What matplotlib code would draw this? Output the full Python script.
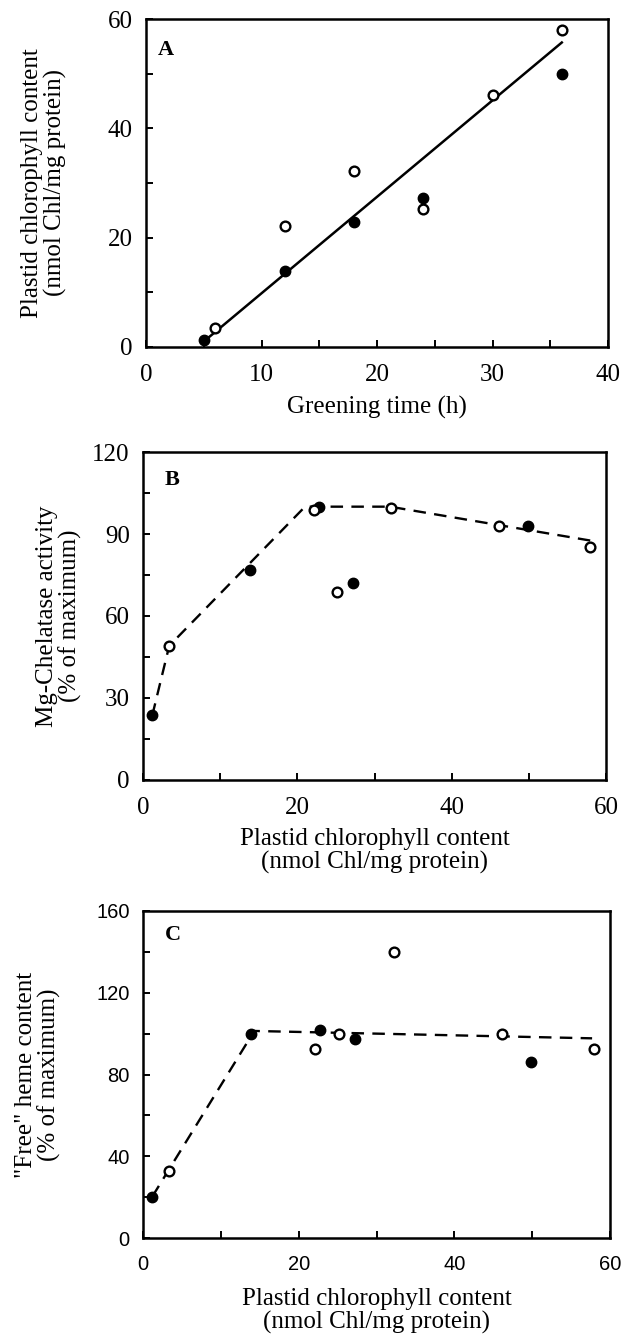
import matplotlib
matplotlib.use('Agg')
import matplotlib.pyplot as plt
from matplotlib.ticker import MultipleLocator

# Panel A: plastid chlorophyll vs greening time
time_filled = [5, 12, 18, 24, 36]
time_open = [6, 12, 18, 24, 30, 36]
chl_filled = [1.2, 13.9, 22.8, 27.2, 49.9]
chl_open = [3.4, 22.1, 32.2, 25.2, 46.1, 57.9]
fit_time = [5, 36]
fit_chl = [1.0, 55.7]

# Panel B: Mg-chelatase activity vs chlorophyll content
mgch_filled = [23.6, 76.7, 99.9, 72.0, 93.0]
mgch_open = [49.1, 98.9, 99.5, 68.9, 92.8, 85.2]
mgch_line_x = [1.2, 3.4, 21.0, 32.0, 58.6]
mgch_line_y = [23.6, 49.1, 100.0, 100.0, 87.3]

# Panel C: "free" heme vs chlorophyll content
heme_filled = [20.3, 99.8, 101.7, 97.5, 86.3]
heme_open = [32.9, 92.3, 140.0, 99.8, 99.8, 92.6]
heme_line_x = [1.2, 14.3, 57.7]
heme_line_y = [20.3, 101.3, 97.7]

plt.rcParams['lines.scale_dashes'] = False
SERIF = 'Liberation Serif'
SANS = 'Liberation Sans'
W, H = 622, 1334

fig = plt.figure(figsize=(W / 100, H / 100), dpi=100)


def add_axes(left, top, right, bottom):
    return fig.add_axes([left / W, (H - bottom) / H, (right - left) / W, (bottom - top) / H])


def style(ax, tickfont, ticksize):
    for sp in ax.spines.values():
        sp.set_linewidth(1.8)
    ax.tick_params(which='both', direction='in', length=5, width=1.4,
                   top=False, right=False)
    ax.tick_params(axis='x', pad=12)
    ax.tick_params(axis='y', pad=9.5)
    for lab in ax.get_xticklabels() + ax.get_yticklabels():
        lab.set_fontfamily(tickfont)
        lab.set_fontsize(ticksize)


def points(ax, xf, yf, xo, yo):
    ax.plot(xf, yf, 'o', color='black', ms=7.5, zorder=4, clip_on=False)
    ax.plot(xo, yo, 'o', mfc='white', mec='black', mew=1.7, ms=7, zorder=5, clip_on=False)


lab_kw = dict(fontfamily=SERIF, fontsize=18, linespacing=1.05)

# ================== A ==================
axA = add_axes(146, 19, 608, 347)
axA.plot(fit_time, fit_chl, color='black', lw=1.8, zorder=3)
points(axA, time_filled, chl_filled, time_open, chl_open)
axA.set_xlim(0, 40)
axA.set_ylim(0, 60)
axA.xaxis.set_major_locator(MultipleLocator(10))
axA.xaxis.set_minor_locator(MultipleLocator(5))
axA.yaxis.set_major_locator(MultipleLocator(20))
axA.yaxis.set_minor_locator(MultipleLocator(10))
style(axA, SERIF, 18)
axA.set_xlabel('Greening time (h)', **lab_kw)
axA.set_ylabel('Plastid chlorophyll content\n(nmol Chl/mg protein)', **lab_kw)
axA.xaxis.set_label_coords(0.5, -0.15)
axA.yaxis.set_label_coords(-0.171, 0.5)
axA.text(0.026, 0.905, 'A', transform=axA.transAxes, fontfamily=SERIF,
         fontweight='bold', fontsize=16, va='center', ha='left')

# ================== B ==================
axB = add_axes(143, 452, 606, 780)
axB.plot(mgch_line_x, mgch_line_y, color='black', lw=1.7, dashes=(9, 6), zorder=3)
points(axB, chl_filled, mgch_filled, chl_open, mgch_open)
axB.set_xlim(0, 60)
axB.set_ylim(0, 120)
axB.xaxis.set_major_locator(MultipleLocator(20))
axB.xaxis.set_minor_locator(MultipleLocator(10))
axB.yaxis.set_major_locator(MultipleLocator(30))
axB.yaxis.set_minor_locator(MultipleLocator(15))
style(axB, SERIF, 18)
axB.set_xlabel('Plastid chlorophyll content\n(nmol Chl/mg protein)', **lab_kw)
axB.set_ylabel('Mg-Chelatase activity\n(% of maximum)', **lab_kw)
axB.xaxis.set_label_coords(0.5, -0.146)
axB.yaxis.set_label_coords(-0.131, 0.5)
axB.text(0.047, 0.915, 'B', transform=axB.transAxes, fontfamily=SERIF,
         fontweight='bold', fontsize=16, va='center', ha='left')

# ================== C ==================
axC = add_axes(143, 911, 610, 1238)
axC.plot(heme_line_x, heme_line_y, color='black', lw=1.7, dashes=(9, 6), zorder=3)
points(axC, chl_filled, heme_filled, chl_open, heme_open)
axC.set_xlim(0, 60)
axC.set_ylim(0, 160)
axC.xaxis.set_major_locator(MultipleLocator(20))
axC.xaxis.set_minor_locator(MultipleLocator(10))
axC.yaxis.set_major_locator(MultipleLocator(40))
axC.yaxis.set_minor_locator(MultipleLocator(20))
style(axC, SANS, 14.5)
axC.set_xlabel('Plastid chlorophyll content\n(nmol Chl/mg protein)', **lab_kw)
axC.set_ylabel('"Free" heme content\n(% of maximum)', **lab_kw)
axC.xaxis.set_label_coords(0.5, -0.153)
axC.yaxis.set_label_coords(-0.176, 0.5)
axC.text(0.047, 0.927, 'C', transform=axC.transAxes, fontfamily=SERIF,
         fontweight='bold', fontsize=16, va='center', ha='left')

fig.savefig('out.png', dpi=100)
